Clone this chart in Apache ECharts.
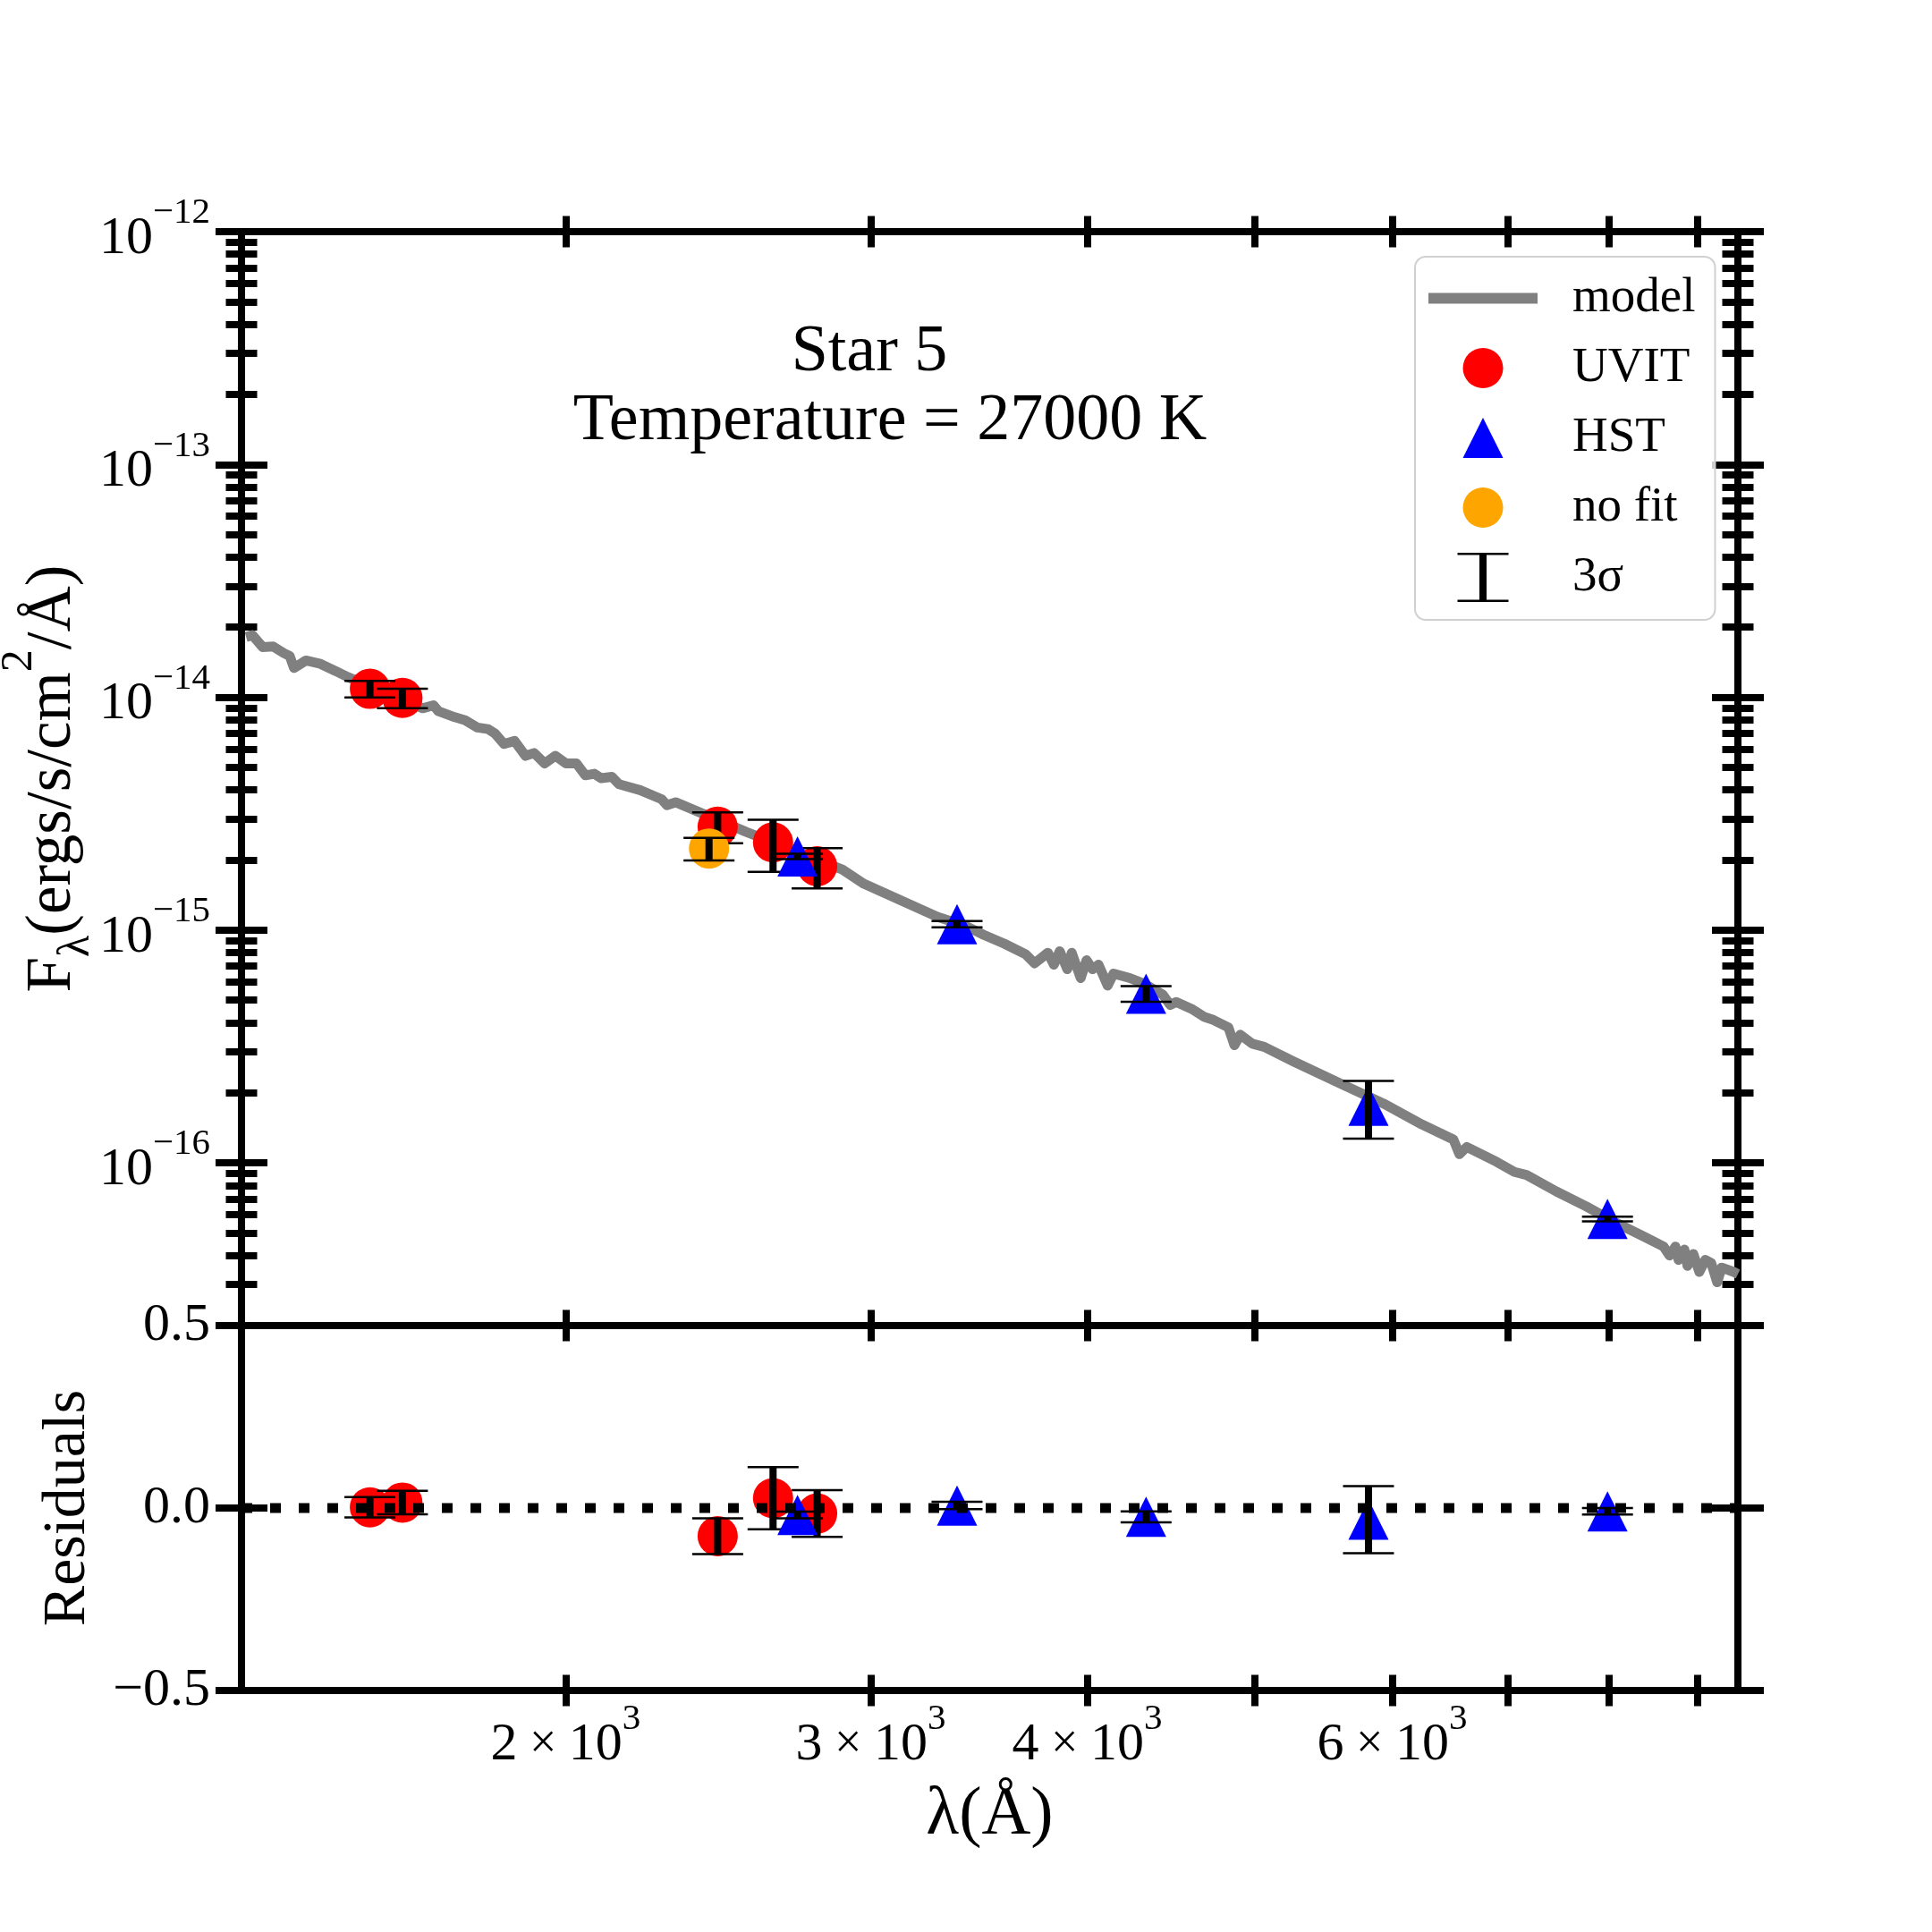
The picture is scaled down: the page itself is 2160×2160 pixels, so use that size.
<!DOCTYPE html>
<html>
<head>
<meta charset="utf-8">
<script src="https://cdn.jsdelivr.net/npm/echarts@6/dist/echarts.min.js"></script>
<style>
html, body { margin: 0; padding: 0; background: #fff; }
#sed { width: 2160px; height: 2160px; }
</style>
</head>
<body>
<div id="sed"></div>
<script>
// model spectrum (wavelength in A, flux in ergs/s/cm2/A)
var modelWave = [1308, 1319, 1337, 1356, 1375, 1386, 1394, 1416, 1442, 1473, 1497, 1654, 1678, 1689, 1726, 1750, 1779, 1804, 1821, 1843,
    1869, 1896, 1918, 1945, 1973, 2001, 2029, 2053, 2078, 2097, 2127, 2147, 2208, 2272, 2288, 2315, 2381, 2543, 2889, 2973,
    3278, 3405, 3487, 3585, 3686, 3730, 3759, 3797, 3827, 3857, 3896, 3919, 3966, 3997, 4029, 4061, 4111, 4143, 4234, 4319,
    4423, 4467, 4503, 4602, 4676, 4731, 4826, 4865, 4903, 4982, 5061, 5266, 5588, 5930, 6244, 6509, 6561, 6626, 6893, 7059,
    7173, 7462, 7763, 8078, 8404, 8606, 8675, 8743, 8779, 8848, 8884, 8954, 9025, 9098, 9169, 9242, 9297, 9446, 9500];
var modelFlux = [1.816e-14, 1.848e-14, 1.643e-14, 1.652e-14, 1.548e-14, 1.504e-14, 1.336e-14, 1.438e-14, 1.396e-14, 1.297e-14,
    1.222e-14, 8.97e-15, 9.24e-15, 8.71e-15, 8.21e-15, 7.97e-15, 7.41e-15, 7.30e-15, 6.98e-15, 6.30e-15,
    6.49e-15, 5.60e-15, 5.76e-15, 5.20e-15, 5.60e-15, 5.20e-15, 5.20e-15, 4.62e-15, 4.69e-15, 4.49e-15,
    4.55e-15, 4.23e-15, 3.99e-15, 3.65e-15, 3.44e-15, 3.54e-15, 3.24e-15, 2.64e-15, 1.82e-15, 1.58e-15,
    1.14e-15, 1.04e-15, 9.53e-16, 8.72e-16, 7.87e-16, 7.20e-16, 7.53e-16, 7.99e-16, 7.10e-16, 8.11e-16,
    6.79e-16, 7.99e-16, 6.22e-16, 7.42e-16, 6.79e-16, 7.10e-16, 5.77e-16, 6.50e-16, 6.22e-16, 5.86e-16,
    5.28e-16, 4.77e-16, 4.91e-16, 4.56e-16, 4.23e-16, 4.11e-16, 3.82e-16, 3.20e-16, 3.55e-16, 3.25e-16,
    3.15e-16, 2.72e-16, 2.21e-16, 1.80e-16, 1.46e-16, 1.26e-16, 1.09e-16, 1.17e-16, 1.01e-16, 9.14e-17,
    8.87e-17, 7.54e-17, 6.51e-17, 5.53e-17, 4.78e-17, 4.37e-17, 4.00e-17, 4.37e-17, 3.83e-17, 4.24e-17,
    3.61e-17, 4.06e-17, 3.40e-17, 3.83e-17, 3.71e-17, 3.07e-17, 3.55e-17, 3.40e-17, 3.33e-17];

// photometry
var uvitWave = [1542, 1610, 2448, 2635, 2794];
var uvitFlux = [1.087e-14, 9.93e-15, 2.78e-15, 2.38e-15, 1.88e-15];
var uvitErr = [8.9e-16, 9.5e-16, 4.2e-16, 6.0e-16, 3.7e-16];
var uvitRes = [0.002, 0.015, -0.077, 0.027, -0.015];
var uvitResErr = [0.028, 0.032, 0.049, 0.085, 0.064];

var hstWave = [2722, 3365, 4326, 5814, 7988];
var hstFlux = [2.07e-15, 1.06e-15, 5.33e-16, 1.76e-16, 5.74e-17];
var hstErr = [5.5e-17, 3.3e-17, 4.1e-17, 4.9e-17, 1.3e-18];
var hstRes = [-0.019, 0.007, -0.024, -0.032, -0.009];
var hstResErr = [0.009, 0.010, 0.015, 0.092, 0.009];

var noFitWave = [2420];
var noFitFlux = [2.24e-15];
var noFitErr = [2.5e-16];

// axes
var xRange = [1300, 9500];
var fluxRange = [2e-17, 1e-12];
var resRange = [-0.5, 0.5];
var xTickVals = [2000, 3000, 4000, 5000, 6000, 7000, 8000, 9000];
var xLabelVals = [2000, 3000, 4000, 6000];
var fluxMajorVals = [1e-16, 1e-15, 1e-14, 1e-13, 1e-12];
var resTickVals = [-0.5, 0, 0.5];

var FONT = 'Liberation Serif';
var lg = function (v) { return Math.log10(v); };

var fluxMinorVals = [];
for (var e = -17; e <= -13; e++) {
    for (var k = 2; k <= 9; k++) {
        var v = k * Math.pow(10, e);
        if (v > fluxRange[0] * 1.001 && v < fluxRange[1]) fluxMinorVals.push(v);
    }
}

var L = 270, T = 259, W = 1673, H1 = 1223, H2 = 408;

function pairs(xs, ys) { return xs.map(function (x, i) { return [x, ys[i]]; }); }
function errRows(xs, ys, es) { return xs.map(function (x, i) { return [x, ys[i] - es[i], ys[i] + es[i]]; }); }

function errRender(params, api) {
    var x = api.value(0);
    var p1 = api.coord([x, api.value(2)]);
    var p2 = api.coord([x, api.value(1)]);
    var c = 28.5;
    return {
        type: 'group',
        children: [
            { type: 'line', shape: { x1: p1[0], y1: p1[1], x2: p2[0], y2: p2[1] }, style: { stroke: '#000', lineWidth: 8 } },
            { type: 'line', shape: { x1: p1[0] - c, y1: p1[1], x2: p1[0] + c, y2: p1[1] }, style: { stroke: '#000', lineWidth: 2.5 } },
            { type: 'line', shape: { x1: p2[0] - c, y1: p2[1], x2: p2[0] + c, y2: p2[1] }, style: { stroke: '#000', lineWidth: 2.5 } }
        ]
    };
}

function hidden(o) {
    o.axisLine = { show: false, onZero: false };
    o.axisTick = { show: false };
    o.axisLabel = { show: false };
    o.splitLine = { show: false };
    return o;
}
function tickAxis(o, vals, len) {
    o.offset = -len / 2;
    o.axisLine = { show: false, onZero: false };
    o.splitLine = { show: false };
    o.axisLabel = { show: false };
    o.axisTick = { show: true, customValues: vals, length: len, lineStyle: { color: '#000', width: 8 } };
    return o;
}

var lgX = [lg(xRange[0]), lg(xRange[1])];
var lgF = [lg(fluxRange[0]), lg(fluxRange[1])];

var tickRich = {
    b: { fontFamily: FONT, fontSize: 60, lineHeight: 98, color: '#000' },
    x: { fontFamily: FONT, fontSize: 54, lineHeight: 98, color: '#000' },
    s: { fontFamily: FONT, fontSize: 41, lineHeight: 40, verticalAlign: 'top', color: '#000' }
};

var ICON_LINE = 'path://M0,0M122,55M0,21.5H122V33.5H0Z';
var ICON_CIRCLE = 'path://M0,0M122,55M38.5,27.5A22.5,22.5,0,1,1,83.5,27.5A22.5,22.5,0,1,1,38.5,27.5Z';
var ICON_TRI = 'path://M0,0M122,55M61,5L83.5,50L38.5,50Z';
var ICON_BAR = 'path://M0,0M122,55M32.5,0H89.5V2.5H65V52.5H89.5V55H32.5V52.5H57V2.5H32.5Z';

var chart = echarts.init(document.getElementById('sed'));
var option = {
    backgroundColor: '#fff',
    animation: false,
    title: [
        { text: 'Star 5', left: 972, top: 358, textAlign: 'center', padding: 0,
          textStyle: { fontFamily: FONT, fontSize: 74, lineHeight: 74, fontWeight: 'normal', color: '#000' } },
        { text: 'Temperature = 27000 K', left: 995, top: 435, textAlign: 'center', padding: 0,
          textStyle: { fontFamily: FONT, fontSize: 74, lineHeight: 74, fontWeight: 'normal', color: '#000' } }
    ],
    legend: {
        left: 1582, top: 287, orient: 'vertical', selectedMode: false,
        padding: [19, 22, 20, 15], itemWidth: 122, itemHeight: 55, itemGap: 23,
        backgroundColor: 'rgba(255,255,255,0.8)', borderColor: '#d0d0d0', borderWidth: 2, borderRadius: 12,
        textStyle: { fontFamily: FONT, fontSize: 55, lineHeight: 55, color: '#000', padding: [0, 0, 0, 34] },
        data: [
            { name: 'model', icon: ICON_LINE, itemStyle: { color: '#808080', borderWidth: 0 } },
            { name: 'UVIT', icon: ICON_CIRCLE, itemStyle: { color: '#ff0000', borderWidth: 0 } },
            { name: 'HST', icon: ICON_TRI, itemStyle: { color: '#0000ff', borderWidth: 0 } },
            { name: 'no fit', icon: ICON_CIRCLE, itemStyle: { color: '#ffa500', borderWidth: 0 } },
            { name: '3σ', icon: ICON_BAR, itemStyle: { color: '#000000', borderWidth: 0 } }
        ]
    },
    grid: [
        { left: L, top: T, width: W, height: H1, outerBoundsMode: 'none', containLabel: false,
          show: true, borderColor: '#000', borderWidth: 8, backgroundColor: 'transparent' },
        { left: L, top: T + H1, width: W, height: H2, outerBoundsMode: 'none', containLabel: false,
          show: true, borderColor: '#000', borderWidth: 8, backgroundColor: 'transparent' }
    ],
    xAxis: [
        hidden({ type: 'log', gridIndex: 0, position: 'bottom', min: xRange[0], max: xRange[1] }),
        hidden({ type: 'log', gridIndex: 1, position: 'bottom', min: xRange[0], max: xRange[1] }),
        tickAxis({ type: 'value', gridIndex: 0, position: 'top', min: lgX[0], max: lgX[1] }, xTickVals.map(lg), 35),
        tickAxis({ type: 'value', gridIndex: 0, position: 'bottom', min: lgX[0], max: lgX[1] }, xTickVals.map(lg), 35),
        tickAxis({ type: 'value', gridIndex: 1, position: 'bottom', min: lgX[0], max: lgX[1] }, xTickVals.map(lg), 35),
        {
            type: 'value', gridIndex: 1, position: 'bottom', min: lgX[0], max: lgX[1],
            axisLine: { show: false, onZero: false }, axisTick: { show: false }, splitLine: { show: false },
            axisLabel: {
                show: true, customValues: xLabelVals.map(lg), margin: 12, rich: tickRich,
                formatter: function (v) {
                    return '{b|' + Math.round(Math.pow(10, v) / 1000) + '}{x| × }{b|10}{s|3}';
                }
            },
            name: 'λ(Å)', nameLocation: 'middle', nameGap: 102, nameMoveOverlap: false,
            nameTextStyle: { fontFamily: FONT, fontSize: 76, lineHeight: 76, color: '#000' }
        }
    ],
    yAxis: [
        hidden({ type: 'log', gridIndex: 0, position: 'left', min: fluxRange[0], max: fluxRange[1] }),
        hidden({ type: 'value', gridIndex: 1, position: 'left', min: resRange[0], max: resRange[1] }),
        tickAxis({ type: 'value', gridIndex: 0, position: 'left', min: lgF[0], max: lgF[1] }, fluxMajorVals.map(lg), 58),
        tickAxis({ type: 'value', gridIndex: 0, position: 'left', min: lgF[0], max: lgF[1] }, fluxMinorVals.map(lg), 35),
        tickAxis({ type: 'value', gridIndex: 0, position: 'right', min: lgF[0], max: lgF[1] }, fluxMajorVals.map(lg), 58),
        tickAxis({ type: 'value', gridIndex: 0, position: 'right', min: lgF[0], max: lgF[1] }, fluxMinorVals.map(lg), 35),
        {
            type: 'value', gridIndex: 0, position: 'left', min: lgF[0], max: lgF[1],
            axisLine: { show: false, onZero: false }, axisTick: { show: false }, splitLine: { show: false },
            axisLabel: {
                show: true, customValues: fluxMajorVals.map(lg), margin: 35, rich: tickRich, padding: [16, 0, 0, 0],
                formatter: function (v) {
                    var ex = Math.round(v);
                    return '{b|10}{s|' + (ex < 0 ? '−' : '') + Math.abs(ex) + '}';
                }
            },
            name: '{t|F}{sub|λ}{t|(ergs/s/cm}{sup|2}{t|/Å)}', nameLocation: 'middle', nameGap: 147, nameMoveOverlap: false,
            nameTextStyle: {
                fontFamily: FONT, fontSize: 71, color: '#000',
                rich: {
                    t: { fontFamily: FONT, fontSize: 71, lineHeight: 128, color: '#000' },
                    sup: { fontFamily: FONT, fontSize: 50, lineHeight: 50, verticalAlign: 'top', padding: [2, 0, 0, 0], color: '#000' },
                    sub: { fontFamily: FONT, fontSize: 50, lineHeight: 50, verticalAlign: 'bottom', padding: [0, 0, 12, 0], color: '#000' }
                }
            }
        },
        tickAxis({ type: 'value', gridIndex: 1, position: 'left', min: resRange[0], max: resRange[1] }, resTickVals, 58),
        tickAxis({ type: 'value', gridIndex: 1, position: 'right', min: resRange[0], max: resRange[1] }, resTickVals, 58),
        {
            type: 'value', gridIndex: 1, position: 'left', min: resRange[0], max: resRange[1],
            axisLine: { show: false, onZero: false }, axisTick: { show: false }, splitLine: { show: false },
            axisLabel: {
                show: true, customValues: resTickVals, margin: 35,
                fontFamily: FONT, fontSize: 60, color: '#000',
                formatter: function (v) { return v.toFixed(1).replace('-', '−'); }
            },
            name: 'Residuals', nameLocation: 'middle', nameGap: 160,
            nameTextStyle: { fontFamily: FONT, fontSize: 68, lineHeight: 68, color: '#000' }
        }
    ],
    series: [
        {
            name: 'model', type: 'line', xAxisIndex: 0, yAxisIndex: 0, z: 2, silent: true,
            data: pairs(modelWave, modelFlux), symbol: 'none', color: '#808080',
            lineStyle: { color: '#808080', width: 11, join: 'round' }
        },
        {
            name: 'UVIT', type: 'scatter', xAxisIndex: 0, yAxisIndex: 0, z: 3, silent: true,
            data: pairs(uvitWave, uvitFlux), symbol: 'circle', symbolSize: 45, itemStyle: { color: '#ff0000', opacity: 1 }
        },
        {
            name: '3σ', type: 'custom', xAxisIndex: 0, yAxisIndex: 0, z: 4, silent: true,
            data: errRows(uvitWave, uvitFlux, uvitErr), encode: { x: 0, y: [1, 2] }, renderItem: errRender, itemStyle: { color: '#000' }
        },
        {
            name: 'HST', type: 'scatter', xAxisIndex: 0, yAxisIndex: 0, z: 5, silent: true,
            data: pairs(hstWave, hstFlux), symbol: 'triangle', symbolSize: 45, itemStyle: { color: '#0000ff', opacity: 1 }
        },
        {
            name: '3σ', type: 'custom', xAxisIndex: 0, yAxisIndex: 0, z: 6, silent: true,
            data: errRows(hstWave, hstFlux, hstErr), encode: { x: 0, y: [1, 2] }, renderItem: errRender, itemStyle: { color: '#000' }
        },
        {
            name: 'no fit', type: 'scatter', xAxisIndex: 0, yAxisIndex: 0, z: 7, silent: true,
            data: pairs(noFitWave, noFitFlux), symbol: 'circle', symbolSize: 45, itemStyle: { color: '#ffa500', opacity: 1 }
        },
        {
            name: '3σ', type: 'custom', xAxisIndex: 0, yAxisIndex: 0, z: 8, silent: true,
            data: errRows(noFitWave, noFitFlux, noFitErr), encode: { x: 0, y: [1, 2] }, renderItem: errRender, itemStyle: { color: '#000' }
        },
        // residual panel
        {
            name: 'UVIT', type: 'scatter', xAxisIndex: 1, yAxisIndex: 1, z: 3, silent: true,
            data: pairs(uvitWave, uvitRes), symbol: 'circle', symbolSize: 45, itemStyle: { color: '#ff0000', opacity: 1 }
        },
        {
            name: '3σ', type: 'custom', xAxisIndex: 1, yAxisIndex: 1, z: 4, silent: true,
            data: errRows(uvitWave, uvitRes, uvitResErr), encode: { x: 0, y: [1, 2] }, renderItem: errRender, itemStyle: { color: '#000' }
        },
        {
            name: 'HST', type: 'scatter', xAxisIndex: 1, yAxisIndex: 1, z: 5, silent: true,
            data: pairs(hstWave, hstRes), symbol: 'triangle', symbolSize: 45, itemStyle: { color: '#0000ff', opacity: 1 }
        },
        {
            name: '3σ', type: 'custom', xAxisIndex: 1, yAxisIndex: 1, z: 6, silent: true,
            data: errRows(hstWave, hstRes, hstResErr), encode: { x: 0, y: [1, 2] }, renderItem: errRender, itemStyle: { color: '#000' }
        },
        {
            name: 'zero', type: 'line', xAxisIndex: 1, yAxisIndex: 1, z: 10, silent: true,
            data: pairs(xRange, [0, 0]), symbol: 'none',
            lineStyle: { color: '#000', width: 11, type: [12, 20], cap: 'butt' }
        }
    ]
};
chart.setOption(option);
</script>
</body>
</html>
